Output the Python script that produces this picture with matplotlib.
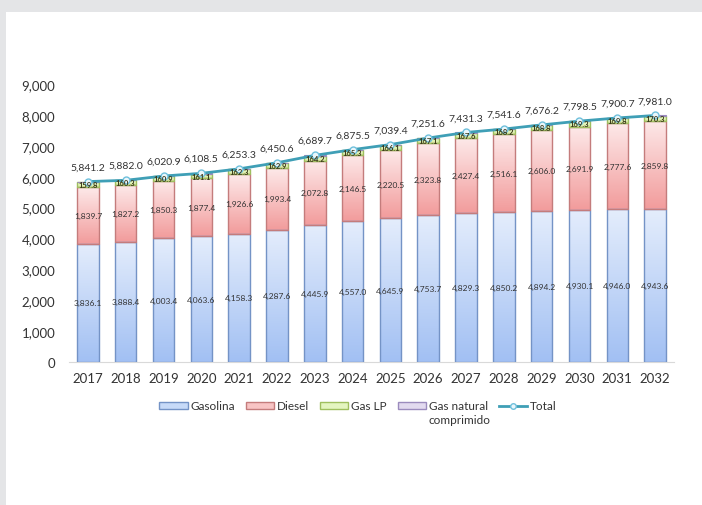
import numpy as np
import matplotlib.pyplot as plt
from matplotlib.patches import Rectangle, Patch
from matplotlib.lines import Line2D
from matplotlib.colors import LinearSegmentedColormap

plt.rcParams['font.family'] = ['Lato', 'DejaVu Sans']

years = [2017, 2018, 2019, 2020, 2021, 2022, 2023, 2024,
         2025, 2026, 2027, 2028, 2029, 2030, 2031, 2032]
gasolina = [3836.1, 3888.4, 4003.4, 4063.6, 4158.3, 4287.6, 4445.9, 4557.0,
            4645.9, 4753.7, 4829.3, 4850.2, 4894.2, 4930.1, 4946.0, 4943.6]
diesel = [1839.7, 1827.2, 1850.3, 1877.4, 1926.6, 1993.4, 2072.8, 2146.5,
          2220.5, 2323.8, 2427.4, 2516.1, 2606.0, 2691.9, 2777.6, 2859.8]
gas_lp = [159.8, 160.3, 160.9, 161.1, 162.3, 162.9, 164.2, 165.3,
          166.1, 167.1, 167.6, 168.2, 168.8, 169.3, 169.8, 170.3]
total = [5841.2, 5882.0, 6020.9, 6108.5, 6253.3, 6450.6, 6689.7, 6875.5,
         7039.4, 7251.6, 7431.3, 7541.6, 7676.2, 7798.5, 7900.7, 7981.0]
# compressed natural gas is whatever remains of the total
gnc = [round(t - a - b - c, 1) for t, a, b, c in zip(total, gasolina, diesel, gas_lp)]

fig = plt.figure(figsize=(7.02, 5.06), dpi=100)
# grey frame on the left and top
fig.patches.append(Rectangle((0, 0), 6 / 702, 1, transform=fig.transFigure,
                             facecolor='#e4e5e7', edgecolor='none', zorder=-5))
fig.patches.append(Rectangle((0, 1 - 13 / 506), 1, 13 / 506, transform=fig.transFigure,
                             facecolor='#e4e5e7', edgecolor='none', zorder=-5))

ax = fig.add_axes([69 / 702, 1 - 363 / 506, (674 - 69) / 702, (363 - 85) / 506])
x = np.arange(len(years))
w = 0.57


def gradient_bars(bottom, heights, top_col, bot_col, edge):
    cmap = LinearSegmentedColormap.from_list('g', [bot_col, top_col])
    bars = ax.bar(x, heights, w, bottom=bottom, facecolor='none',
                  edgecolor=edge, linewidth=1.0, zorder=3)
    grad = np.linspace(0, 1, 100).reshape(-1, 1)
    for b in bars:
        x0, y0 = b.get_x(), b.get_y()
        im = ax.imshow(grad, cmap=cmap, origin='lower', aspect='auto',
                       extent=[x0, x0 + b.get_width(), y0, y0 + b.get_height()],
                       zorder=2)
        im.set_clip_path(b)
    return bars


gradient_bars(0, gasolina, '#e4edfc', '#a2c0f3', '#7493c6')
b1 = np.array(gasolina)
gradient_bars(b1, diesel, '#fde9e9', '#f29c9c', '#c47c7c')
b2 = b1 + np.array(diesel)
gradient_bars(b2, gas_lp, '#f2fadc', '#d5ee9e', '#9fbf5f')
b3 = b2 + np.array(gas_lp)
ax.bar(x, gnc, w, bottom=b3, facecolor='#d9cfe8', edgecolor='#9b8bbd',
       linewidth=0.8, zorder=3)

ax.plot(x, total, color='#3f9fb6', linewidth=2, zorder=5,
        marker='o', markersize=5, markerfacecolor='#eaf6fb',
        markeredgecolor='#6fc0dc', markeredgewidth=1)

for i in x:
    ax.text(i, gasolina[i] / 2, f'{gasolina[i]:,.1f}', ha='center', va='center',
            fontsize=6, color='#333333', zorder=6)
    ax.text(i, b1[i] + diesel[i] / 2, f'{diesel[i]:,.1f}', ha='center', va='center',
            fontsize=6, color='#333333', zorder=6)
    ax.text(i, b2[i] + gas_lp[i] / 2, f'{gas_lp[i]:,.1f}', ha='center', va='center',
            fontsize=5.5, color='#3a3a1a', fontweight='bold', zorder=6)
    ax.text(i, total[i] + 330, f'{total[i]:,.1f}', ha='center', va='bottom',
            fontsize=7.5, color='#333333', zorder=6)

ax.set_xlim(-0.5, len(years) - 0.5)
ax.set_ylim(0, 9000)
ax.set_yticks(range(0, 9001, 1000))
ax.set_yticklabels([f'{v:,}' for v in range(0, 9001, 1000)])
ax.set_xticks(x)
ax.set_xticklabels(years)
ax.tick_params(axis='both', length=0, labelsize=9.5, colors='#333333')
ax.tick_params(axis='y', pad=10)
ax.tick_params(axis='x', pad=7)
for s in ['top', 'right', 'left']:
    ax.spines[s].set_visible(False)
ax.spines['bottom'].set_color('#d9d9d9')

handles = [
    Patch(facecolor='#c7daf8', edgecolor='#7493c6', label='Gasolina'),
    Patch(facecolor='#f8c4c4', edgecolor='#c47c7c', label='Diesel'),
    Patch(facecolor='#e4f5c0', edgecolor='#9fbf5f', label='Gas LP'),
    Patch(facecolor='#e2daef', edgecolor='#9b8bbd', label='Gas natural'),
    Line2D([], [], color='#3f9fb6', linewidth=2, marker='o', markersize=4,
           markerfacecolor='#eaf6fb', markeredgecolor='#6fc0dc', label='Total'),
]
leg = fig.legend(handles=handles, loc='center', bbox_to_anchor=(0.51, 1 - 407 / 506),
                 ncol=5, frameon=False, fontsize=8.5, handlelength=2.4, handleheight=0.6,
                 columnspacing=0.9, handletextpad=0.25)
for t in leg.get_texts():
    t.set_color('#333333')

# second line of the natural gas label sits under its first line
fig.canvas.draw()
gn = leg.get_texts()[3]
bb = gn.get_window_extent()
fig.text(bb.x0 / fig.bbox.width, (bb.y0 - 3) / fig.bbox.height, 'comprimido',
         ha='left', va='top', fontsize=8.5, color='#333333')

fig.savefig('out.png', dpi=100, facecolor='white')
